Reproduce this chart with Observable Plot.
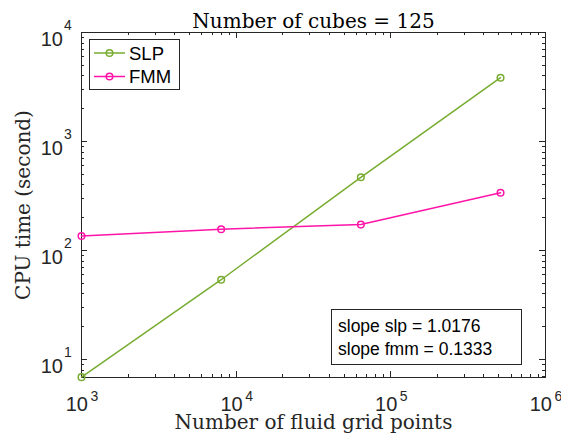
<!DOCTYPE html>
<html>
<head>
<meta charset="utf-8">
<script src="https://cdn.jsdelivr.net/npm/d3@7"></script>
<script src="https://cdn.jsdelivr.net/npm/@observablehq/plot@0.6"></script>
<style>
  html, body { margin: 0; padding: 0; background: #fff; overflow: hidden; }
  #wrap { position: relative; width: 561px; height: 446px; }
  .overlay { position: absolute; left: 0; top: 0; pointer-events: none; }
</style>
</head>
<body>
<div id="wrap"></div>
<script>
// ---- data ----
const gridPoints = [1000, 8000, 64000, 512000];
const slpTimes = [6.9, 54, 470, 3850];
const fmmTimes = [136, 157, 173, 339];
const seriesNames = ["SLP", "FMM"];
const seriesColors = ["#77ac30", "#ff14a8"];
const xTickExponents = [3, 4, 5, 6];
const yTickExponents = [1, 2, 3, 4];
const titleText = "Number of cubes = 125";
const xLabelText = "Number of fluid grid points";
const yLabelText = "CPU time (second)";
const noteLines = ["slope slp = 1.0176", "slope fmm = 0.1333"];

const xDomain = [1e3, 1e6];
const yDomain = [6.85, 1e4];

const rows = [];
gridPoints.forEach((g, i) => {
  rows.push({series: seriesNames[0], x: g, y: slpTimes[i]});
  rows.push({series: seriesNames[1], x: g, y: fmmTimes[i]});
});

function minorTicks(domain) {
  const out = [];
  for (let e = Math.floor(Math.log10(domain[0])); e < Math.ceil(Math.log10(domain[1])); e++) {
    for (let m = 2; m <= 9; m++) {
      const v = m * 10 ** e;
      if (v >= domain[0] && v <= domain[1]) out.push(v);
    }
  }
  return out;
}
const xMajor = xTickExponents.map(e => 10 ** e);
const yMajor = yTickExponents.map(e => 10 ** e);
const xMinor = minorTicks(xDomain);
const yMinor = minorTicks(yDomain);

const W = 561, H = 446, mL = 81, mR = 16, mT = 32, mB = 69;
const frameW = W - mL - mR, frameH = H - mT - mB;
const axisColor = "#262626";

// inward ticks as rules spanning the frame, trimmed by insets
function ticks(values, dim, len) {
  const s = {stroke: axisColor, strokeWidth: 1, shapeRendering: "crispEdges"};
  if (dim === "x") {
    return [
      Plot.ruleX(values, {...s, x: d => d, insetTop: frameH - len}),
      Plot.ruleX(values, {...s, x: d => d, insetBottom: frameH - len})
    ];
  }
  return [
    Plot.ruleY(values, {...s, y: d => d, insetRight: frameW - len}),
    Plot.ruleY(values, {...s, y: d => d, insetLeft: frameW - len})
  ];
}

const sans = "Liberation Sans, Arial, Helvetica, sans-serif";
const serif = "DejaVu Serif, serif";

const chart = Plot.plot({
  width: W,
  height: H,
  marginLeft: mL,
  marginRight: mR,
  marginTop: mT,
  marginBottom: mB,
  style: {background: "#fff", overflow: "visible"},
  x: {type: "log", domain: xDomain, axis: null},
  y: {type: "log", domain: yDomain, axis: null},
  color: {domain: seriesNames, range: seriesColors},
  marks: [
    ...ticks(xMajor, "x", 6),
    ...ticks(xMinor, "x", 3),
    ...ticks(yMajor, "y", 6),
    ...ticks(yMinor, "y", 3),
    Plot.frame({stroke: axisColor, strokeWidth: 1, shapeRendering: "crispEdges"}),
    Plot.line(rows, {x: "x", y: "y", z: "series", stroke: "series", strokeWidth: 1.5}),
    Plot.dot(rows, {x: "x", y: "y", stroke: "series", r: 3.3, strokeWidth: 1.5, fill: "none"}),
    // x tick labels
    Plot.text(xTickExponents, {x: d => 10 ** d, y: yDomain[0], text: () => "10", textAnchor: "end", dx: 6.5, dy: 27, fontSize: 20, fontFamily: sans, fill: axisColor}),
    Plot.text(xTickExponents, {x: d => 10 ** d, y: yDomain[0], text: d => String(d), textAnchor: "start", dx: 9, dy: 19.5, fontSize: 14, fontFamily: sans, fill: axisColor}),
    // y tick labels
    Plot.text(yTickExponents, {y: d => 10 ** d, x: xDomain[0], text: () => "10", textAnchor: "end", dx: -18.5, dy: 6.6, fontSize: 20, fontFamily: sans, fill: axisColor}),
    Plot.text(yTickExponents, {y: d => 10 ** d, x: xDomain[0], text: d => String(d), textAnchor: "start", dx: -17.5, dy: -7, fontSize: 14, fontFamily: sans, fill: axisColor}),
    // title and axis labels
    Plot.text([titleText], {frameAnchor: "top", textAnchor: "middle", dy: -19, fontSize: 20, fontFamily: serif, fill: "#000"}),
    Plot.text([xLabelText], {frameAnchor: "bottom", textAnchor: "middle", dy: 51, fontSize: 20, fontFamily: serif, fill: axisColor}),
    Plot.text([yLabelText], {frameAnchor: "left", textAnchor: "middle", dx: -58, rotate: -90, fontSize: 20, fontFamily: serif, fill: axisColor})
  ]
});

const wrap = document.getElementById("wrap");
wrap.appendChild(chart);

// legend + annotation overlay
const ov = d3.select(wrap).append("svg").attr("class", "overlay").attr("width", W).attr("height", H);
const lg = ov.append("g").attr("transform", "translate(89,39)");
lg.append("rect").attr("x", 0.5).attr("y", 0.5).attr("width", 90).attr("height", 50).attr("fill", "#fff").attr("stroke", axisColor).attr("stroke-width", 1);
seriesNames.forEach((name, i) => {
  const cy = 14 + i * 23.5;
  lg.append("line").attr("x1", 5).attr("x2", 36).attr("y1", cy).attr("y2", cy).attr("stroke", seriesColors[i]).attr("stroke-width", 1.5);
  lg.append("circle").attr("cx", 20.5).attr("cy", cy).attr("r", 3.3).attr("fill", "none").attr("stroke", seriesColors[i]).attr("stroke-width", 1.5);
  lg.append("text").attr("x", 40).attr("y", cy + 6.8).attr("font-family", sans).attr("font-size", 18.5).attr("fill", "#000").text(name);
});
const ng = ov.append("g").attr("transform", "translate(331,309)");
ng.append("rect").attr("x", 0.5).attr("y", 0.5).attr("width", 190).attr("height", 55).attr("fill", "#fff").attr("stroke", axisColor).attr("stroke-width", 1);
noteLines.forEach((t, i) => {
  ng.append("text").attr("x", 7).attr("y", 23 + i * 23).attr("font-family", sans).attr("font-size", 17.5).attr("fill", "#000").text(t);
});
</script>
</body>
</html>
